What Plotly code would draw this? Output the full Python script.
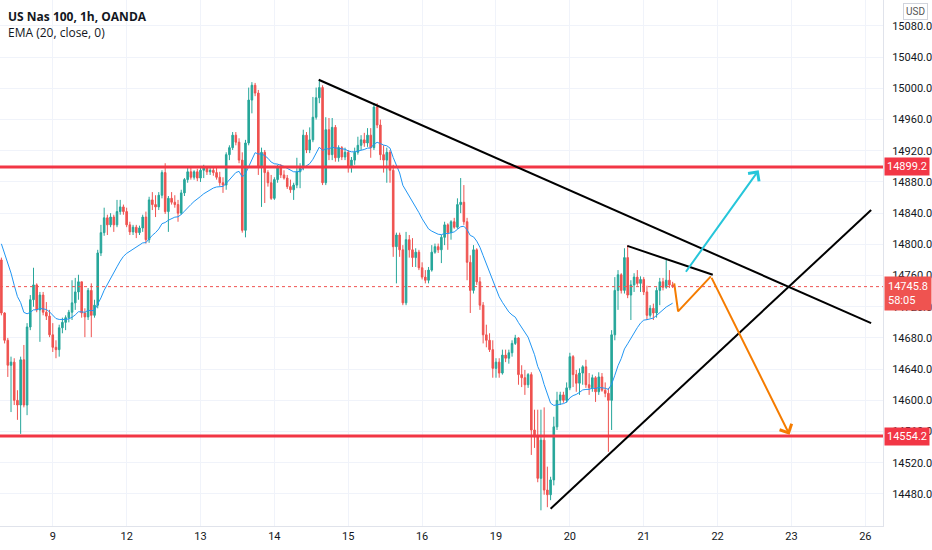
import plotly.graph_objects as go

# US Nas 100, 1h bars. bar index 0 = first bar of the 9th, 23 bars per trading day
first_idx = -16
first_open = 14780

closes = [
    14712, 14677, 14645, 14649, 14600, 14594, 14652, 14594, 14694, 14729,
    14748, 14716, 14735, 14713, 14708, 14684, 14668, 14665, 14693, 14700,
    14706, 14713, 14725, 14739, 14752, 14712, 14707, 14741, 14709, 14722,
    14789, 14815, 14834, 14825, 14835, 14825, 14842, 14848, 14842, 14825,
    14816, 14822, 14815, 14821, 14835, 14806, 14857, 14851, 14848, 14863,
    14892, 14842, 14859, 14854, 14851, 14840, 14866, 14883, 14893, 14886,
    14893, 14885, 14895, 14898, 14893, 14895, 14892, 14886, 14879, 14876,
    14915, 14924, 14940, 14931, 14908, 14818, 14930, 14985, 15004, 14994,
    14899, 14918, 14892, 14879, 14859, 14883, 14898, 14889, 14885, 14874,
    14870, 14876, 14893, 14899, 14940, 14921, 14934, 14963, 14988, 15001,
    14879, 14947, 14915, 14950, 14911, 14924, 14912, 14918, 14899, 14908,
    14918, 14927, 14934, 14930, 14940, 14924, 14976, 14953, 14915, 14908,
    14918, 14895, 14797, 14812, 14793, 14725, 14806, 14793, 14783, 14790,
    14770, 14758, 14754, 14767, 14790, 14797, 14793, 14809, 14825, 14815,
    14829, 14822, 14851, 14854, 14829, 14777, 14741, 14793, 14752, 14722,
    14684, 14677, 14665, 14641, 14649, 14635, 14658, 14654, 14661, 14673,
    14680, 14633, 14629, 14620, 14633, 14562, 14553, 14500, 14549, 14485,
    14479, 14498, 14566, 14600, 14607, 14600, 14616, 14656, 14633, 14622,
    14635, 14643, 14620, 14616, 14629, 14611, 14630, 14613, 14609, 14600,
    14684, 14741, 14761, 14741, 14783, 14735, 14748, 14758, 14750, 14755,
    14739, 14709, 14718, 14712, 14741, 14752, 14745, 14754, 14748, 14745.8,
]
highs = [
    14783, 14713, 14680, 14656, 14654, 14613, 14656, 14671, 14699, 14735,
    14770, 14750, 14739, 14739, 14726, 14716, 14699, 14677, 14697, 14706,
    14709, 14716, 14754, 14757, 14761, 14752, 14718, 14744, 14750, 14729,
    14793, 14825, 14847, 14838, 14840, 14838, 14857, 14857, 14851, 14847,
    14829, 14825, 14825, 14824, 14838, 14842, 14861, 14867, 14863, 14867,
    14895, 14904, 14862, 14867, 14863, 14857, 14870, 14885, 14898, 14898,
    14895, 14897, 14899, 14902, 14900, 14900, 14900, 14898, 14893, 14886,
    14918, 14927, 14944, 14944, 14936, 14918, 14934, 15001, 15008, 15007,
    14998, 14924, 14921, 14895, 14889, 14886, 14902, 14903, 14895, 14889,
    14883, 14879, 14911, 14904, 14947, 14944, 14950, 14989, 15001, 15011,
    15004, 14963, 14962, 14962, 14953, 14927, 14926, 14924, 14921, 14912,
    14924, 14938, 14940, 14943, 14949, 14949, 14981, 14981, 14960, 14927,
    14924, 14921, 14902, 14815, 14815, 14799, 14816, 14812, 14808, 14795,
    14793, 14777, 14767, 14771, 14799, 14801, 14801, 14812, 14829, 14827,
    14831, 14834, 14859, 14885, 14876, 14834, 14786, 14799, 14795, 14758,
    14726, 14697, 14686, 14677, 14654, 14654, 14665, 14665, 14665, 14677,
    14684, 14681, 14645, 14639, 14635, 14636, 14588, 14588, 14588, 14591,
    14515, 14502, 14579, 14611, 14611, 14611, 14623, 14661, 14658, 14639,
    14641, 14645, 14652, 14635, 14633, 14631, 14636, 14635, 14623, 14616,
    14690, 14758, 14767, 14763, 14795, 14799, 14754, 14763, 14767, 14759,
    14758, 14747, 14722, 14724, 14745, 14757, 14757, 14780, 14767, 14752,
]
lows = [
    14709, 14673, 14630, 14585, 14594, 14575, 14557, 14591, 14581, 14690,
    14720, 14713, 14675, 14709, 14703, 14681, 14662, 14654, 14656, 14686,
    14690, 14700, 14703, 14716, 14729, 14706, 14681, 14703, 14681, 14706,
    14718, 14785, 14811, 14812, 14822, 14816, 14822, 14838, 14838, 14822,
    14812, 14812, 14808, 14812, 14816, 14801, 14802, 14844, 14835, 14844,
    14859, 14839, 14816, 14851, 14847, 14829, 14838, 14862, 14879, 14883,
    14883, 14881, 14880, 14885, 14889, 14889, 14888, 14883, 14875, 14866,
    14870, 14908, 14921, 14927, 14904, 14815, 14809, 14927, 14968, 14990,
    14889, 14848, 14853, 14874, 14857, 14857, 14879, 14885, 14883, 14871,
    14866, 14857, 14872, 14872, 14895, 14917, 14917, 14931, 14960, 14981,
    14876, 14876, 14908, 14908, 14906, 14906, 14908, 14908, 14892, 14892,
    14902, 14915, 14921, 14925, 14925, 14911, 14921, 14949, 14908, 14892,
    14879, 14879, 14784, 14750, 14784, 14722, 14722, 14783, 14771, 14771,
    14767, 14755, 14750, 14750, 14765, 14788, 14789, 14776, 14799, 14793,
    14806, 14820, 14820, 14840, 14825, 14754, 14712, 14737, 14748, 14716,
    14673, 14668, 14662, 14629, 14629, 14629, 14633, 14649, 14647, 14656,
    14671, 14620, 14617, 14607, 14616, 14530, 14539, 14495, 14459, 14479,
    14463, 14472, 14491, 14562, 14594, 14597, 14597, 14613, 14617, 14611,
    14607, 14620, 14616, 14607, 14611, 14598, 14607, 14611, 14604, 14534,
    14562, 14677, 14716, 14737, 14737, 14731, 14703, 14739, 14747, 14739,
    14735, 14703, 14706, 14703, 14706, 14722, 14741, 14743, 14744, 14744,
]
ema_seed = 14810  # EMA value just before the first visible bar

day_labels = ["9", "12", "13", "14", "15", "16", "19", "20", "21", "22", "23", "26"]
bars_per_day = 23

resistance = 14899.2
support = 14554.2
last_price = 14745.8
countdown = "58:05"

# drawings: (bar index, price)
trend_down = [(82.8, 15011), (254.8, 14699)]
trend_up = [(155.0, 14461), (254.8, 14844)]
flag_top = [(178.9, 14798), (205.5, 14761)]
bull_arrow = [(196.8, 14763), (219.8, 14895)]
bear_path = [(193.5, 14750), (194.7, 14714), (204.9, 14759), (229.4, 14556)]

UP, DOWN = "#26a69a", "#ef5350"
GRID = "#f0f3fa"
TEXT = "#131722"

x_idx = list(range(first_idx, first_idx + len(closes)))
opens = [first_open] + closes[:-1]
highs = [max(h, o, c) for h, o, c in zip(highs, opens, closes)]
lows = [min(l, o, c) for l, o, c in zip(lows, opens, closes)]

alpha = 2 / 21
ema, prev = [], ema_seed
for c in closes:
    prev = alpha * c + (1 - alpha) * prev
    ema.append(prev)

fig = go.Figure()
fig.add_trace(go.Candlestick(
    x=x_idx, open=opens, high=highs, low=lows, close=closes,
    increasing=dict(line=dict(color=UP, width=1), fillcolor=UP),
    decreasing=dict(line=dict(color=DOWN, width=1), fillcolor=DOWN),
    showlegend=False, hoverinfo="skip",
))
fig.add_trace(go.Scatter(x=x_idx, y=ema, mode="lines",
                         line=dict(color="#2196f3", width=1),
                         showlegend=False, hoverinfo="skip"))

# horizontal levels
for lvl in (resistance, support):
    fig.add_shape(type="line", xref="paper", x0=0, x1=1, yref="y", y0=lvl, y1=lvl,
                  line=dict(color="#f23645", width=3))
fig.add_shape(type="line", xref="paper", x0=0, x1=1, yref="y", y0=last_price, y1=last_price,
              line=dict(color="#ef5350", width=1, dash="dot"))

# trend lines
for seg in (trend_down, trend_up, flag_top):
    (xa, ya), (xb, yb) = seg
    fig.add_shape(type="line", x0=xa, y0=ya, x1=xb, y1=yb,
                  line=dict(color="black", width=2))

# orange scenario path, last leg with an arrow head
fig.add_trace(go.Scatter(x=[p[0] for p in bear_path[:-1]], y=[p[1] for p in bear_path[:-1]],
                         mode="lines", line=dict(color="#f57c00", width=2),
                         showlegend=False, hoverinfo="skip"))
arrows = [(bull_arrow[0], bull_arrow[1], "#26c6da"), (bear_path[-2], bear_path[-1], "#f57c00")]
for (xa, ya), (xb, yb), col in arrows:
    fig.add_annotation(x=xb, y=yb, ax=xa, ay=ya, xref="x", yref="y", axref="x", ayref="y",
                       showarrow=True, arrowhead=4, arrowsize=1.3, arrowwidth=2,
                       arrowcolor=col, standoff=0, text="")

# price scale labels
for lvl in (resistance, support):
    fig.add_annotation(xref="paper", x=1, xanchor="left", yref="y", y=lvl, yanchor="middle",
                       text=f"{lvl:.1f}", showarrow=False, bgcolor="#f23645",
                       font=dict(color="white", size=11, family="Roboto"), borderpad=2,
                       xshift=1)
fig.add_annotation(xref="paper", x=1, xanchor="left", yref="y", y=last_price, yanchor="middle",
                   yshift=-7, text=f"{last_price:.1f}<br>{countdown}", showarrow=False,
                   bgcolor="#ef5350", font=dict(color="white", size=11, family="Roboto"),
                   borderpad=3, xshift=1, align="left")
fig.add_annotation(xref="paper", yref="paper", x=1, y=1, xanchor="left", yanchor="top",
                   xshift=20, yshift=-3, text="USD", showarrow=False,
                   font=dict(color="#555", size=10, family="Roboto"),
                   bordercolor="#d1d4dc", borderwidth=1, borderpad=2, bgcolor="white")

# legend text top-left
fig.add_annotation(xref="paper", yref="paper", x=0, y=1, xanchor="left", yanchor="top",
                   xshift=6, yshift=-6, text="<b>US Nas 100, 1h, OANDA</b>", showarrow=False,
                   font=dict(color=TEXT, size=12, family="Open Sans"))
fig.add_annotation(xref="paper", yref="paper", x=0, y=1, xanchor="left", yanchor="top",
                   xshift=6, yshift=-22, text="EMA (20, close, 0)", showarrow=False,
                   font=dict(color=TEXT, size=12, family="Open Sans"))

fig.update_layout(
    width=932, height=550,
    margin=dict(l=0, r=45, t=0, b=24),
    plot_bgcolor="white", paper_bgcolor="white",
    showlegend=False,
    xaxis=dict(
        range=[-16.43, 258.5],
        tickvals=[i * bars_per_day for i in range(len(day_labels))],
        ticktext=day_labels,
        showgrid=True, gridcolor=GRID, zeroline=False,
        showline=True, linecolor="#e0e3eb", linewidth=1,
        tickfont=dict(color=TEXT, size=11, family="Roboto"),
        rangeslider=dict(visible=False), fixedrange=True,
    ),
    yaxis=dict(
        side="right", range=[14438.9, 15113.3],
        tickvals=list(range(14480, 15081, 40)), tickformat=".1f",
        showgrid=True, gridcolor=GRID, zeroline=False,
        showline=True, linecolor="#e0e3eb", linewidth=1,
        tickfont=dict(color=TEXT, size=11, family="Roboto"),
        ticklabelstandoff=6, fixedrange=True,
    ),
)

# the page's default body margin would push the chart 8px off the window
fig.write_html("out.html", config={"displayModeBar": False},
               post_script="document.body.style.margin='0px';")
